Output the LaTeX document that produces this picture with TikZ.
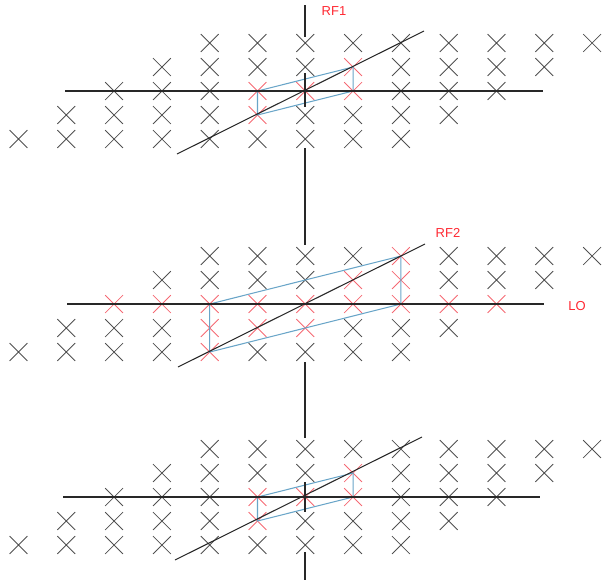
\documentclass[tikz,border=0pt]{standalone}
\usepackage{fontspec}
\setmainfont{Liberation Sans}
\usetikzlibrary{shapes.misc}
\definecolor{gridgray}{RGB}{80,80,80}
\definecolor{linegray}{RGB}{40,40,40}
\definecolor{hotred}{RGB}{245,105,115}
\definecolor{parblue}{RGB}{105,165,200}
\definecolor{labelred}{RGB}{255,40,50}
\tikzset{
  dimx/.style = {cross out, draw=gridgray, line width=0.85pt, minimum size=17pt, inner sep=0pt},
  hotx/.style = {dimx, draw=hotred},
  axis/.style = {draw=linegray, line width=1.05pt},
  para/.style = {draw=parblue, line width=1.05pt},
  tag/.style  = {text=labelred, font=\fontsize{13}{15}\selectfont, inner sep=0pt},
}

\begin{document}
\begin{tikzpicture}[x=1pt, y=-1pt]
  \useasboundingbox (0,0) rectangle (616,587);

  % Red crosses (panel-row-column)
  \foreach \n in {1-2-5,1-3-5,1-2-6,1-1-7,1-2-7,
                  3-2-5,3-3-5,3-2-6,3-1-7,3-2-7,
                  2-0-8,2-1-7,2-1-8,2-2-2,2-2-3,2-2-4,2-2-5,2-2-6,2-2-7,
                  2-2-8,2-2-9,2-2-10,2-3-4,2-3-5,2-3-6,2-4-4}
    {\expandafter\gdef\csname hot\n\endcsname{}}

  % Cross lattices
  \foreach \p/\cy in {1/91, 2/304, 3/497} {
    \foreach \r in {0,...,4} {
      \pgfmathtruncatemacro\kmin{4-\r}
      \pgfmathtruncatemacro\kmax{12-\r}
      \foreach \k in {\kmin,...,\kmax} {
        \ifcsname hot\p-\r-\k\endcsname \def\xsty{hotx}\else \def\xsty{dimx}\fi
        \node[\xsty] (x\p-\r-\k) at ({18.5+47.8*\k},{\cy+24*(\r-2)}) {};
      }
    }
  }

  % Parallelograms
  \draw[para] (x1-2-5.center) -- (x1-1-7.center) -- (x1-2-7.center) -- (x1-3-5.center) -- cycle;
  \draw[para] (x2-2-4.center) -- (x2-0-8.center) -- (x2-2-8.center) -- (x2-4-4.center) -- cycle;
  \draw[para] (x3-2-5.center) -- (x3-1-7.center) -- (x3-2-7.center) -- (x3-3-5.center) -- cycle;

  % Horizontal and slanted lines
  \foreach \p/\cy/\hw/\he/\dx in {1/91/65/543/0, 2/304/67/544/1, 3/497/63/540/-2} {
    \coordinate (h\p w) at (\hw,\cy);
    \coordinate (h\p e) at (\he,\cy);
    \coordinate (d\p a) at ({177+\dx},{\cy+63});
    \coordinate (d\p b) at ({424+\dx},{\cy-60});
    \draw[axis] (h\p w) -- (h\p e);
    \draw[axis] (d\p a) -- (d\p b);
  }

  % Vertical line pieces
  \foreach \a/\b [count=\i] in {5/37, 73/107, 148/245, 362/438, 482/512, 552/580} {
    \coordinate (v\i a) at (305,\a);
    \coordinate (v\i b) at (305,\b);
    \draw[axis] (v\i a) -- (v\i b);
  }

  % Labels
  \node[tag] (rf1) at (334,11) {RF1};
  \node[tag] (rf2) at (448,233) {RF2};
  \node[tag] (lo)  at (577,306) {LO};
\end{tikzpicture}
\end{document}
